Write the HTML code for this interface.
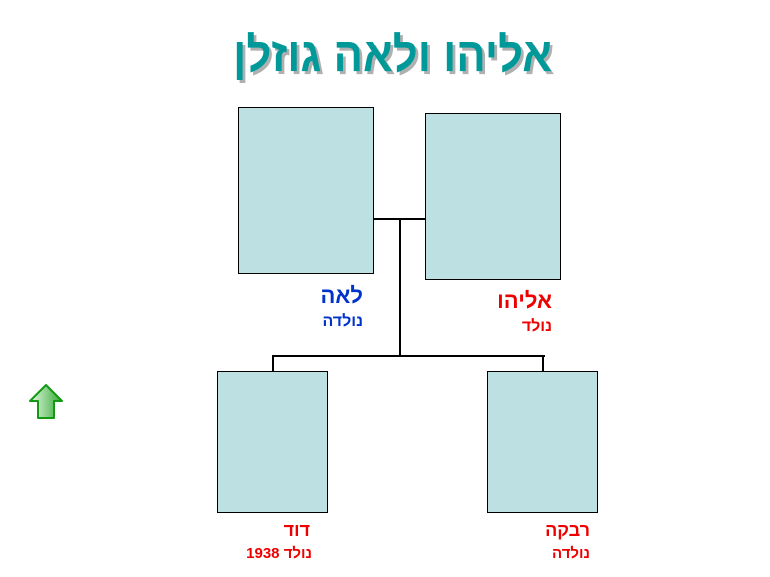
<!DOCTYPE html>
<html><head><meta charset="utf-8"><style>
body{margin:0;width:770px;height:577px;background:#fff;position:relative;overflow:hidden;font-family:"Liberation Sans",sans-serif}
.b{position:absolute;background:#bde0e3;border:1px solid #000;box-sizing:border-box}
.l{position:absolute;background:#000}
.t{position:absolute;font-weight:bold;direction:rtl;text-align:right;white-space:nowrap}
</style></head><body>
<div class="t" style="left:150px;width:402px;top:26px;font-size:48px;color:#009999;text-shadow:3px 3px 0 #b0b0b0;line-height:60px;transform:scaleX(0.91);transform-origin:right center">אליהו ולאה גוזלן</div>
<div class="b" style="left:238px;top:107px;width:136px;height:167px"></div>
<div class="b" style="left:425px;top:113px;width:136px;height:167px"></div>
<div class="b" style="left:217px;top:371px;width:111px;height:142px"></div>
<div class="b" style="left:487px;top:371px;width:111px;height:142px"></div>
<div class="l" style="left:374px;top:218px;width:51px;height:2px"></div>
<div class="l" style="left:399px;top:218px;width:2px;height:139px"></div>
<div class="l" style="left:272px;top:355px;width:273px;height:2px"></div>
<div class="l" style="left:272px;top:355px;width:2px;height:16px"></div>
<div class="l" style="left:542px;top:355px;width:2px;height:16px"></div>
<div class="t" style="right:407px;top:283px;font-size:22px;color:#0033cc">לאה</div>
<div class="t" style="right:407px;top:313px;font-size:16px;color:#0033cc">נולדה</div>
<div class="t" style="right:218px;top:288px;font-size:22px;color:#ee0000">אליהו</div>
<div class="t" style="right:218px;top:318px;font-size:16px;color:#ee0000">נולד</div>
<div class="t" style="right:460px;top:520px;font-size:18px;color:#ee0000">דוד</div>
<div class="t" style="right:458px;top:545px;font-size:15px;color:#ee0000">נולד 1938</div>
<div class="t" style="right:180px;top:520px;font-size:18px;color:#ee0000">רבקה</div>
<div class="t" style="right:180px;top:545px;font-size:15px;color:#ee0000">נולדה</div>
<svg style="position:absolute;left:27px;top:383px" width="38" height="38" viewBox="0 0 38 38">
<defs><linearGradient id="g" x1="0" x2="1"><stop offset="0" stop-color="#e8f8e8"/><stop offset="1" stop-color="#33aa33"/></linearGradient></defs>
<path d="M19 2 L35 18 L27 18 L27 35 L11 35 L11 18 L3 18 Z" fill="url(#g)" stroke="#119911" stroke-width="2" stroke-linejoin="round"/>
</svg>
</body></html>
